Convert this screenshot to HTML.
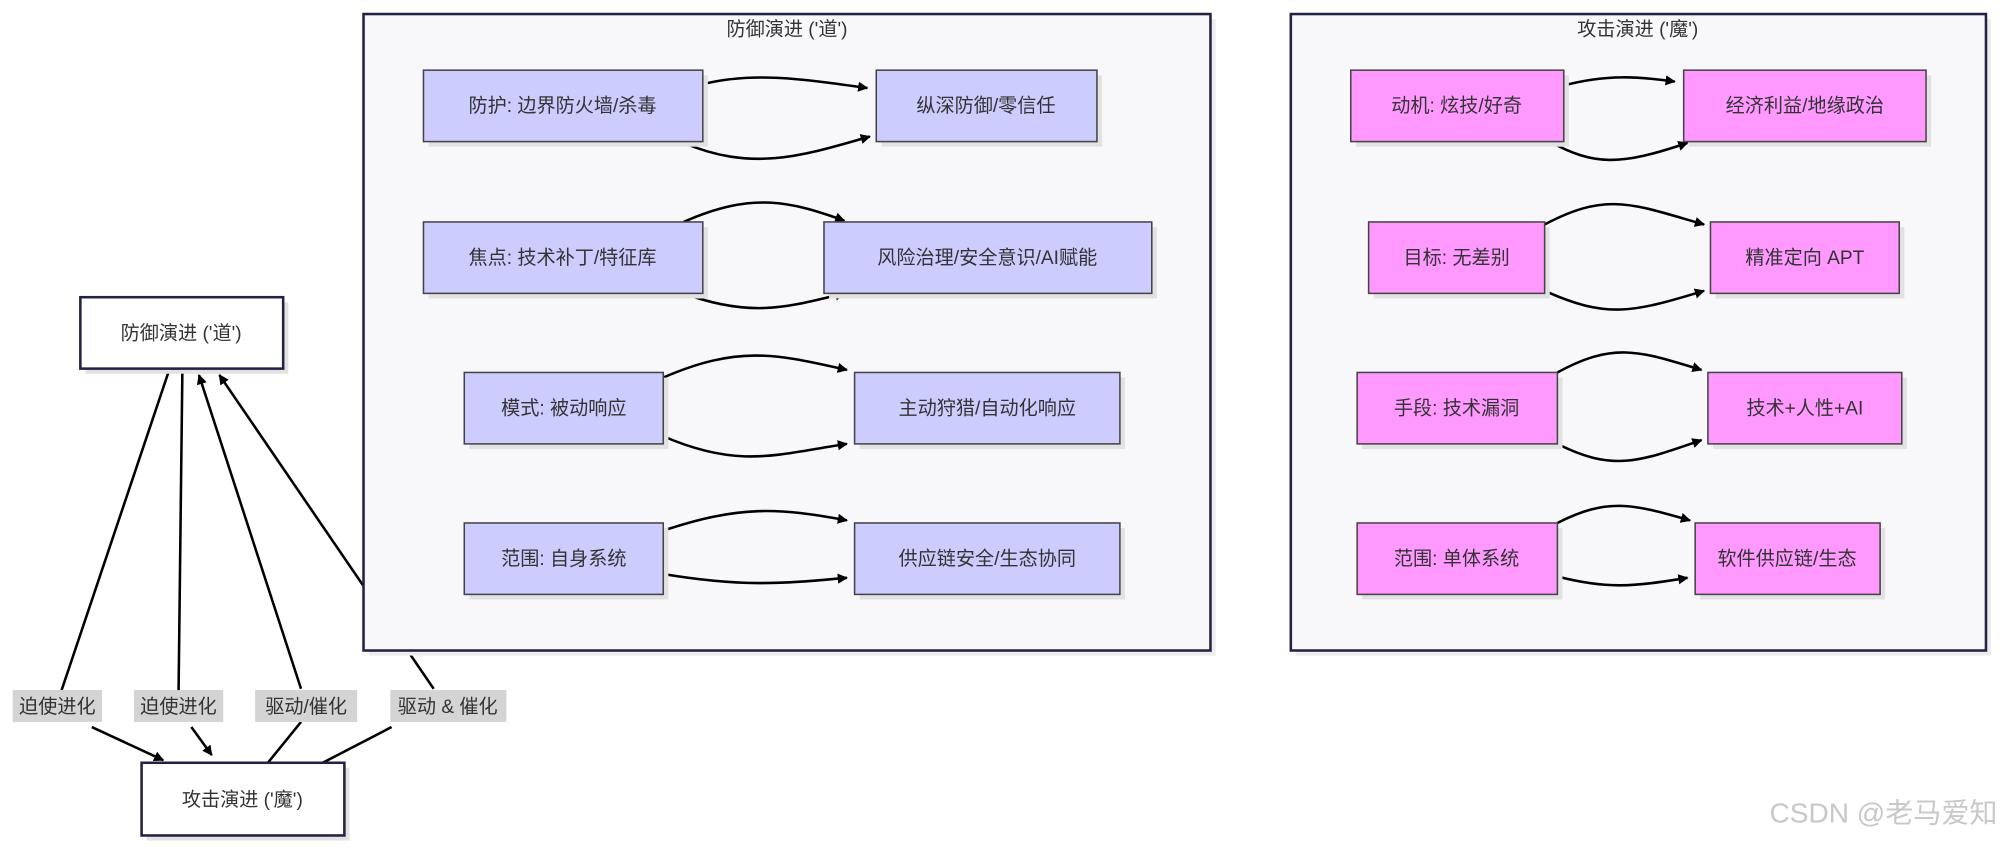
<!DOCTYPE html>
<html><head><meta charset="utf-8"><style>
html,body{margin:0;padding:0;background:#fff;}
svg{display:block;}
text{font-family:"Liberation Sans","Noto Sans CJK SC",sans-serif;fill:#333;}
</style></head><body>
<svg width="2000" height="849" viewBox="0 0 1568 665.6" xmlns="http://www.w3.org/2000/svg">
<defs>
<marker id="a" viewBox="0 0 10 10" refX="9" refY="5" markerWidth="8" markerHeight="8" orient="auto-start-reverse" markerUnits="userSpaceOnUse"><path d="M0,0L10,5L0,10z" fill="#000"/></marker>
</defs>
<g fill="none" stroke="#000" stroke-width="2">
<path d="M133,289 L48,542" />
<path d="M72,570 L128,596" marker-end="url(#a)" transform=""/>
<path d="M143,289 L140,542"/>
<path d="M150,570 L166,592" marker-end="url(#a)"/>
<path d="M210,598 L236,566"/>
<path d="M236,540 L156,294" marker-end="url(#a)"/>
<path d="M253,598 L307,570"/>
<path d="M340,540 L172,294" marker-end="url(#a)"/>
</g>
<!-- clusters -->
<rect x="289" y="15" width="664" height="499" fill="#ececec"/>
<rect x="285" y="11" width="664" height="499" fill="#f8f8fa" stroke="#222244" stroke-width="2"/>
<text x="617" y="28" font-size="15" text-anchor="middle">防御演进 ('道')</text>
<rect x="1016" y="15" width="545" height="499" fill="#ececec"/>
<rect x="1012" y="11" width="545" height="499" fill="#f8f8fa" stroke="#222244" stroke-width="2"/>
<text x="1284" y="28" font-size="15" text-anchor="middle">攻击演进 ('魔')</text>
<!-- edges in clusters -->
<g fill="none" stroke="#000" stroke-width="2" marker-end="url(#a)">
<path d="M551,66 C590,56 630,62 680,69"/>
<path d="M536,112 C590,135 630,122 682,107"/>
<path d="M536,174 C590,150 620,158 662,173"/>
<path d="M536,230 C590,250 620,240 662,230"/>
<path d="M520,296 C580,270 610,278 664,290"/>
<path d="M520,342 C580,368 610,356 664,348"/>
<path d="M520,416 C580,396 610,398 664,408"/>
<path d="M520,450 C580,460 610,458 664,453"/>
<path d="M1226,67 C1260,58 1285,60 1313,64"/>
<path d="M1215,111 C1250,130 1270,130 1323,112"/>
<path d="M1211,176 C1260,150 1280,160 1336,176"/>
<path d="M1211,228 C1260,250 1280,245 1336,228"/>
<path d="M1221,292 C1265,268 1285,275 1334,290"/>
<path d="M1221,348 C1265,370 1285,362 1334,345"/>
<path d="M1221,410 C1260,390 1280,395 1325,408"/>
<path d="M1221,452 C1260,462 1280,460 1323,453"/>
</g>
<!-- nodes -->
<g font-size="15" text-anchor="middle">
<g fill="#e2e2e2">
<rect x="336" y="59" width="219" height="56"/><rect x="691" y="59" width="173" height="56"/>
<rect x="336" y="178" width="219" height="56"/><rect x="650" y="178" width="257" height="56"/>
<rect x="368" y="296" width="156" height="56"/><rect x="674" y="296" width="208" height="56"/>
<rect x="368" y="414" width="156" height="56"/><rect x="674" y="414" width="208" height="56"/>
<rect x="1063" y="59" width="167" height="56"/><rect x="1324" y="59" width="190" height="56"/>
<rect x="1077" y="178" width="138" height="56"/><rect x="1345" y="178" width="148" height="56"/>
<rect x="1068" y="296" width="157" height="56"/><rect x="1343" y="296" width="152" height="56"/>
<rect x="1068" y="414" width="157" height="56"/><rect x="1333" y="414" width="145" height="56"/>
<rect x="67" y="237" width="159" height="56"/><rect x="115" y="602" width="159" height="57"/>
</g>
<g fill="#ccccff" stroke="#444" stroke-width="1.2">
<rect x="332" y="55" width="219" height="56"/><rect x="687" y="55" width="173" height="56"/>
<rect x="332" y="174" width="219" height="56"/><rect x="646" y="174" width="257" height="56"/>
<rect x="364" y="292" width="156" height="56"/><rect x="670" y="292" width="208" height="56"/>
<rect x="364" y="410" width="156" height="56"/><rect x="670" y="410" width="208" height="56"/>
</g>
<g fill="#ff99ff" stroke="#444" stroke-width="1.2">
<rect x="1059" y="55" width="167" height="56"/><rect x="1320" y="55" width="190" height="56"/>
<rect x="1073" y="174" width="138" height="56"/><rect x="1341" y="174" width="148" height="56"/>
<rect x="1064" y="292" width="157" height="56"/><rect x="1339" y="292" width="152" height="56"/>
<rect x="1064" y="410" width="157" height="56"/><rect x="1329" y="410" width="145" height="56"/>
</g>
<g fill="#fff" stroke="#222244" stroke-width="2">
<rect x="63" y="233" width="159" height="56"/><rect x="111" y="598" width="159" height="57"/>
</g>
<text x="441" y="88">防护: 边界防火墙/杀毒</text>
<text x="773" y="88">纵深防御/零信任</text>
<text x="441" y="207">焦点: 技术补丁/特征库</text>
<text x="774" y="207">风险治理/安全意识/AI赋能</text>
<text x="442" y="325">模式: 被动响应</text>
<text x="774" y="325">主动狩猎/自动化响应</text>
<text x="442" y="443">范围: 自身系统</text>
<text x="774" y="443">供应链安全/生态协同</text>
<text x="1142" y="88">动机: 炫技/好奇</text>
<text x="1415" y="88">经济利益/地缘政治</text>
<text x="1142" y="207">目标: 无差别</text>
<text x="1415" y="207">精准定向 APT</text>
<text x="1142" y="325">手段: 技术漏洞</text>
<text x="1415" y="325">技术+人性+AI</text>
<text x="1142" y="443">范围: 单体系统</text>
<text x="1401" y="443">软件供应链/生态</text>
<text x="142" y="266">防御演进 ('道')</text>
<text x="190" y="632">攻击演进 ('魔')</text>
</g>
<!-- edge labels -->
<g font-size="15" text-anchor="middle">
<rect x="10" y="541" width="70" height="25" fill="#d4d4d4"/><text x="45" y="559">迫使进化</text>
<rect x="105" y="541" width="70" height="25" fill="#d4d4d4"/><text x="140" y="559">迫使进化</text>
<rect x="200" y="541" width="80" height="25" fill="#d4d4d4"/><text x="240" y="559">驱动/催化</text>
<rect x="306" y="541" width="91" height="25" fill="#d4d4d4"/><text x="351" y="559">驱动 &amp; 催化</text>
</g>
<text x="1566" y="645" font-size="22" text-anchor="end" style="fill:#c8c8c8">CSDN @老马爱知</text>
</svg>
</body></html>
